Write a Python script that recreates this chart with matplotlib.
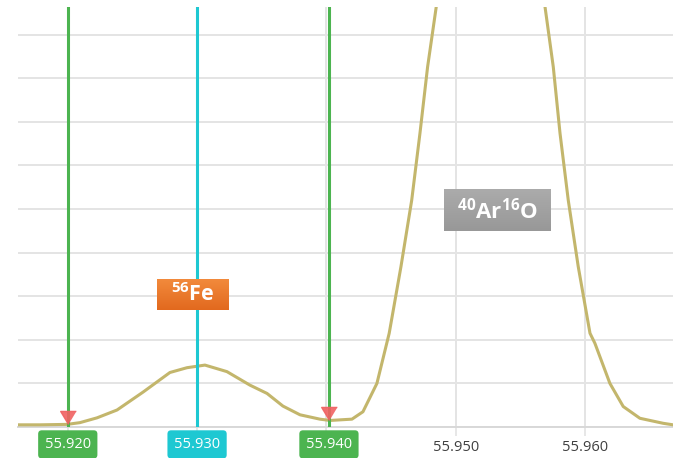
import numpy as np
import matplotlib
matplotlib.use("Agg")
import matplotlib.pyplot as plt
from matplotlib.colors import LinearSegmentedColormap

# Mass scan (m/z) and detector intensity (arbitrary units) around m/z 56
mass = [55.91615, 55.91785, 55.91994, 55.92094, 55.92226, 55.92381, 55.92582,
        55.92790, 55.92922, 55.93061, 55.93231, 55.93409, 55.93541, 55.93664,
        55.93796, 55.93950, 55.94028, 55.94198, 55.94283, 55.94391, 55.94486,
        55.94577, 55.94660, 55.94724, 55.94783, 55.95280, 55.95755, 55.95807,
        55.95871, 55.95948, 55.96039, 55.96077, 55.96193, 55.96296, 55.96425,
        55.96605, 55.96681]
intensity = [0.05, 0.05, 0.06, 0.10, 0.21, 0.39, 0.80,
             1.25, 1.36, 1.42, 1.27, 0.96, 0.77, 0.48,
             0.28, 0.18, 0.15, 0.18, 0.35, 1.00, 2.15,
             3.68, 5.20, 6.74, 8.26, 18.5, 8.26, 6.74,
             5.20, 3.68, 2.15, 1.92, 1.00, 0.47, 0.20,
             0.085, 0.05]

# Cursor markers on the mass axis
marker_masses = [55.9200, 55.9300, 55.9402]
marker_labels = ["55.920", "55.930", "55.940"]
marker_colors = ["#4cb450", "#1ec8d2", "#4cb450"]
marker_arrow = [True, False, True]

# Axis ticks (labels under the cursor tags are carried by the tags)
tick_values = [55.920, 55.930, 55.940, 55.950, 55.960]
tick_labels = ["", "", "", "55.950", "55.960"]

plt.rcParams['font.family'] = ['Open Sans', 'DejaVu Sans']
plt.rcParams['mathtext.fontset'] = 'custom'
plt.rcParams['mathtext.rm'] = 'Open Sans:bold'
plt.rcParams['mathtext.default'] = 'rm'

W, H = 673, 458
fig = plt.figure(figsize=(W / 100, H / 100), dpi=100)
ax = fig.add_axes([18 / W, 1 - 427 / H, 1 - 18 / W, (427 - 7) / H])

XLIM = (55.91615, 55.96681)
YLIM = (0, 9.633)

# grid
ax.set_yticks(np.arange(0, 10))
ax.set_xticks(tick_values)
ax.set_xticklabels(tick_labels)
ax.grid(True, color='#e4e4e4', lw=1.4, zorder=0)
ax.set_axisbelow(True)
ax.tick_params(axis='y', length=0, labelleft=False)
ax.tick_params(axis='x', length=6.5, width=1.1, color='#e0e0e0',
               labelcolor='#404040', labelsize=10.5, pad=3)
for side in ('top', 'left', 'right'):
    ax.spines[side].set_visible(False)
ax.spines['bottom'].set_color('#d8d8d8')
ax.spines['bottom'].set_linewidth(1.4)

# spectrum
ax.plot(mass, intensity, color='#c3b66c', lw=2.2, solid_joinstyle='round', zorder=3)

# cursor lines, arrows and value tags
tri = [(0, 0), (-0.6, 1), (0.6, 1)]
for m, lab, col, arrow in zip(marker_masses, marker_labels, marker_colors, marker_arrow):
    ax.axvline(m, color=col, lw=2.2, zorder=4)
    if arrow:
        ax.plot(m, np.interp(m, mass, intensity), marker=tri, ms=18.8,
                color='#f06262', alpha=0.9, zorder=5, clip_on=False, lw=0)
    ax.annotate(lab, xy=(m, 0), xycoords=('data', 'axes fraction'),
                xytext=(0, -12.5), textcoords='offset points',
                ha='center', va='center', color='white', fontsize=10.5,
                bbox=dict(boxstyle='round,pad=0.45,rounding_size=0.25',
                          fc=col, ec='none'),
                zorder=6, annotation_clip=False)

# peak identification labels
def tag(x0, x1, y0, y1, top, bottom, text, size):
    cmap = LinearSegmentedColormap.from_list('g', [top, bottom])
    ax.imshow(np.linspace(0, 1, 50).reshape(-1, 1), cmap=cmap,
              extent=[x0, x1, y0, y1], aspect='auto', origin='upper', zorder=6)
    ax.text((x0 + x1) / 2, (y0 + y1) / 2, text, ha='center', va='center',
            color='white', fontsize=size, fontweight='bold', zorder=7)

tag(55.92692, 55.93247, 2.683, 3.372, '#f28a3c', '#e2691e', r'$^{56}$Fe', 15.5)
tag(55.94910, 55.95737, 4.495, 5.452, '#ababab', '#989898', r'$^{40}$Ar$^{16}$O', 16)

ax.set_xlim(*XLIM)
ax.set_ylim(*YLIM)

fig.savefig('out.png', dpi=100)
